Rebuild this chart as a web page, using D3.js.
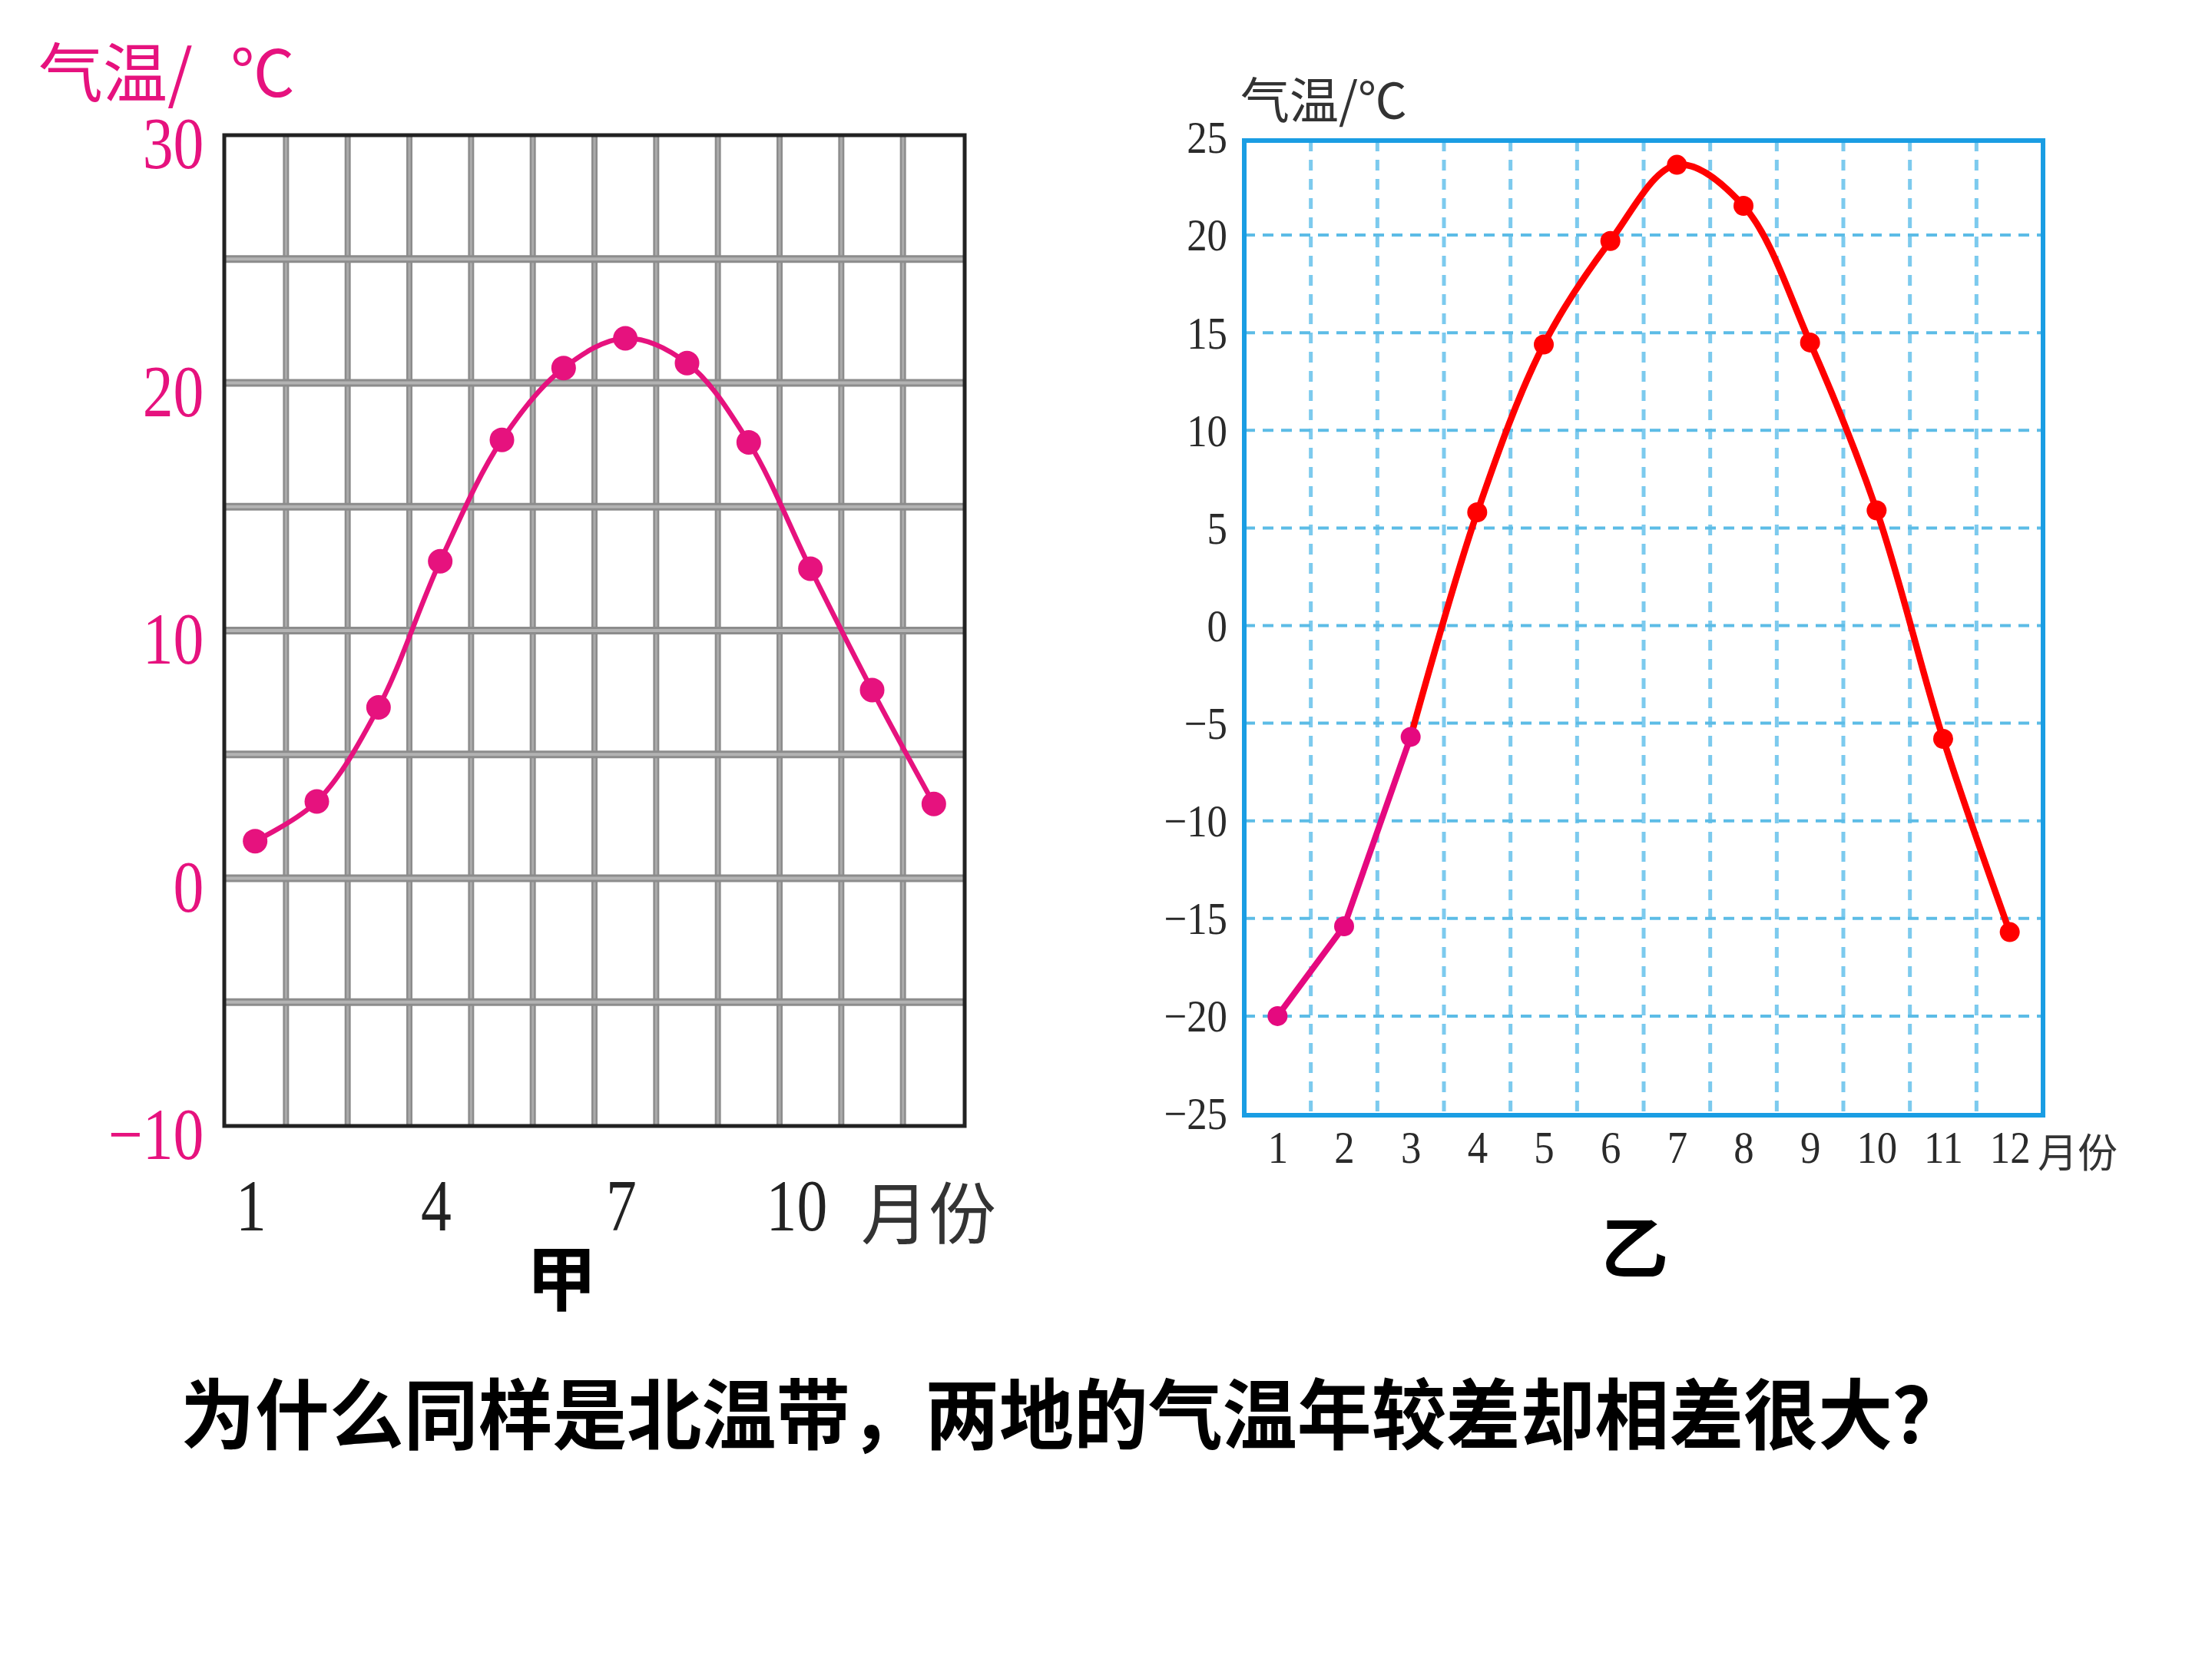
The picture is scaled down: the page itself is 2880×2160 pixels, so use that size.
<!DOCTYPE html>
<html><head><meta charset="utf-8">
<script src="https://cdn.jsdelivr.net/npm/d3@7"></script>
<style>html,body{margin:0;padding:0;background:#fff;} svg{display:block;}</style>
</head><body>
<script>
// ---- data ----
const months = [1,2,3,4,5,6,7,8,9,10,11,12];
const tempJia = [1.5,3.1,6.9,12.8,17.7,20.6,21.8,20.8,17.6,12.5,7.6,3.0];
const tempYi  = [-20.0,-15.4,-5.7,5.8,14.4,19.7,23.6,21.5,14.5,5.9,-5.8,-15.7];
const jiaYTicks = [30,20,10,0,-10];
const jiaXTicks = [1,4,7,10];
const jiaGridY = [-5,0,5,10,15,20,25];
const yiYTicks = [25,20,15,10,5,0,-5,-10,-15,-20,-25];
const yiGridY = [20,15,10,5,0,-5,-10,-15,-20];
const yiXTicks = months;
const titleJiaMain = "气温/";
const titleJiaUnit = "℃";
const titleYi = "气温/℃";
const unitX = "月份";
const labelJia = "甲";
const labelYi = "乙";
const question = "为什么同样是北温带，两地的气温年较差却相差很大？";

// ---- styles ----
const PINK = "#e6127e", RED = "#ff0000", BLUE = "#1a9de3", DASH = "#5cbce6", DASHV = "#7ccaee";
const W = 2880, H = 2160;
const svg = d3.select("body").append("svg").attr("width",W).attr("height",H);
svg.append("rect").attr("width",W).attr("height",H).attr("fill","#fff");

const fmt = d => d < 0 ? "\u2212" + Math.abs(d) : String(d);
const CJK = "'Noto Sans CJK SC', 'Noto Sans', sans-serif";
const SERIF = "'Liberation Serif', 'DejaVu Serif', serif";

// ================= 甲 =================
const L = {x0:292, x1:1256, y0:176, y1:1466};
const xL = d3.scaleLinear().domain([0.5,12.5]).range([L.x0,L.x1]);
const yL = d3.scaleLinear().domain([-10,30]).range([L.y1,L.y0]);
const gL = svg.append("g");
const vIdx = d3.range(1,12).map(i => i + 0.5);
// vertical grid
gL.selectAll(".vg").data(vIdx).join("line").attr("x1",d=>xL(d)).attr("x2",d=>xL(d))
  .attr("y1",L.y0).attr("y2",L.y1).attr("stroke","#8c8c8c").attr("stroke-width",8);
gL.selectAll(".vg2").data(vIdx).join("line").attr("x1",d=>xL(d)).attr("x2",d=>xL(d))
  .attr("y1",L.y0).attr("y2",L.y1).attr("stroke","#ababab").attr("stroke-width",3);
// horizontal grid
gL.selectAll(".hg").data(jiaGridY).join("line").attr("x1",L.x0).attr("x2",L.x1)
  .attr("y1",d=>yL(d)).attr("y2",d=>yL(d)).attr("stroke","#8c8c8c").attr("stroke-width",10);
gL.selectAll(".hg2").data(jiaGridY).join("line").attr("x1",L.x0).attr("x2",L.x1)
  .attr("y1",d=>yL(d)).attr("y2",d=>yL(d)).attr("stroke","#b3b3b3").attr("stroke-width",4);
// frame
gL.append("rect").attr("x",L.x0).attr("y",L.y0).attr("width",L.x1-L.x0).attr("height",L.y1-L.y0)
  .attr("fill","none").attr("stroke","#222").attr("stroke-width",5);
// line
const lineL = d3.line().x((d,i)=>xL(months[i])).y(d=>yL(d)).curve(d3.curveCatmullRom.alpha(0.5));
gL.append("path").datum(tempJia).attr("d",lineL).attr("fill","none").attr("stroke",PINK).attr("stroke-width",6.5);
gL.selectAll(".dot").data(tempJia).join("circle").attr("cx",(d,i)=>xL(months[i])).attr("cy",d=>yL(d))
  .attr("r",16).attr("fill",PINK);
// axes
const gLY = svg.append("g").attr("transform",`translate(${L.x0},0)`)
  .call(d3.axisLeft(yL).tickValues(jiaYTicks).tickSize(0).tickPadding(32).tickFormat(fmt));
gLY.select(".domain").remove();
gLY.selectAll("text").attr("fill",PINK).attr("font-family",SERIF).attr("font-size",96)
  .attr("y",11).attr("dy","0.33em").attr("transform","scale(0.83,1)");
const gLX = svg.append("g").attr("transform",`translate(0,${L.y1})`)
  .call(d3.axisBottom(xL).tickValues(jiaXTicks).tickSize(0).tickPadding(0).tickFormat(fmt));
gLX.select(".domain").remove();
gLX.selectAll("text").attr("fill","#222").attr("font-family",SERIF).attr("font-size",96)
  .attr("y",104).attr("dy","0.33em").attr("dx",d => d >= 10 ? -22 : -7).attr("transform","scale(0.83,1)");
svg.append("text").attr("x",1121).attr("y",1573).attr("dominant-baseline","central")
  .attr("font-family",CJK).attr("font-size",88).attr("fill","#333").text(unitX);
svg.append("text").attr("x",50).attr("y",89).attr("dominant-baseline","central")
  .attr("font-family",CJK).attr("font-size",84).attr("fill",PINK).text(titleJiaMain);
svg.append("text").attr("x",300).attr("y",89).attr("dominant-baseline","central")
  .attr("font-family",CJK).attr("font-size",84).attr("fill",PINK).text(titleJiaUnit);
svg.append("text").attr("x",731).attr("y",1658).attr("text-anchor","middle").attr("dominant-baseline","central")
  .attr("font-family",CJK).attr("font-weight","bold").attr("font-size",92).attr("fill","#000").text(labelJia);

// ================= 乙 =================
const R = {x0:1620, x1:2660, y0:183, y1:1452};
const xR = d3.scaleLinear().domain([0.5,12.5]).range([R.x0,R.x1]);
const yR = d3.scaleLinear().domain([-25,25]).range([1450,179]);
const gR = svg.append("g");
gR.selectAll(".vg").data(vIdx).join("line").attr("x1",d=>xR(d)).attr("x2",d=>xR(d))
  .attr("y1",R.y0).attr("y2",R.y1).attr("stroke",DASHV).attr("stroke-width",5).attr("stroke-dasharray","14,11");
gR.selectAll(".hg").data(yiGridY).join("line").attr("x1",R.x0).attr("x2",R.x1)
  .attr("y1",d=>yR(d)).attr("y2",d=>yR(d)).attr("stroke",DASH).attr("stroke-width",4).attr("stroke-dasharray","14,10");
gR.append("rect").attr("x",R.x0).attr("y",R.y0).attr("width",R.x1-R.x0).attr("height",R.y1-R.y0)
  .attr("fill","none").attr("stroke",BLUE).attr("stroke-width",6);
// pink segment (months 1-3) and red curve (months 3-12)
const pts = tempYi.map((v,i)=>[xR(months[i]), yR(v)]);
gR.append("path").attr("d",d3.line().curve(d3.curveLinear)(pts.slice(0,3)))
  .attr("fill","none").attr("stroke","#e5097f").attr("stroke-width",8);
gR.append("path").attr("d",d3.line().curve(d3.curveCatmullRom.alpha(0.5))(pts.slice(2)))
  .attr("fill","none").attr("stroke",RED).attr("stroke-width",8.5);
gR.selectAll(".dot").data(tempYi).join("circle").attr("cx",(d,i)=>xR(months[i])).attr("cy",d=>yR(d))
  .attr("r",13).attr("fill",(d,i)=> i < 3 ? "#e5097f" : RED);
// axes
const gRY = svg.append("g").attr("transform",`translate(${R.x0},0)`)
  .call(d3.axisLeft(yR).tickValues(yiYTicks).tickSize(0).tickPadding(25).tickFormat(fmt));
gRY.select(".domain").remove();
gRY.selectAll("text").attr("fill","#2a2a2a").attr("font-family",SERIF).attr("font-size",60)
  .attr("dy","0.33em").attr("transform","scale(0.88,1)");
const gRX = svg.append("g").attr("transform",`translate(0,${R.y1})`)
  .call(d3.axisBottom(xR).tickValues(yiXTicks).tickSize(0).tickPadding(0).tickFormat(fmt));
gRX.select(".domain").remove();
gRX.selectAll("text").attr("fill","#2a2a2a").attr("font-family",SERIF).attr("font-size",60)
  .attr("y",42).attr("dy","0.33em").attr("transform","scale(0.88,1)");
svg.append("text").attr("x",2653).attr("y",1497).attr("dominant-baseline","central")
  .attr("font-family",CJK).attr("font-size",52).attr("fill","#333").text(unitX);
svg.append("text").attr("x",1615).attr("y",126).attr("dominant-baseline","central")
  .attr("font-family",CJK).attr("font-size",64).attr("fill","#333").text(titleYi);
svg.append("text").attr("x",2128).attr("y",1618).attr("text-anchor","middle").attr("dominant-baseline","central")
  .attr("font-family",CJK).attr("font-weight","bold").attr("font-size",88).attr("fill","#000").text(labelYi);

// ================= question =================
svg.append("text").attr("x",235).attr("y",1835).attr("dominant-baseline","central")
  .attr("font-family",CJK).attr("font-weight","bold").attr("font-size",100)
  .attr("textLength",2326).attr("lengthAdjust","spacingAndGlyphs").attr("fill","#000").text(question);
</script>
</body></html>
